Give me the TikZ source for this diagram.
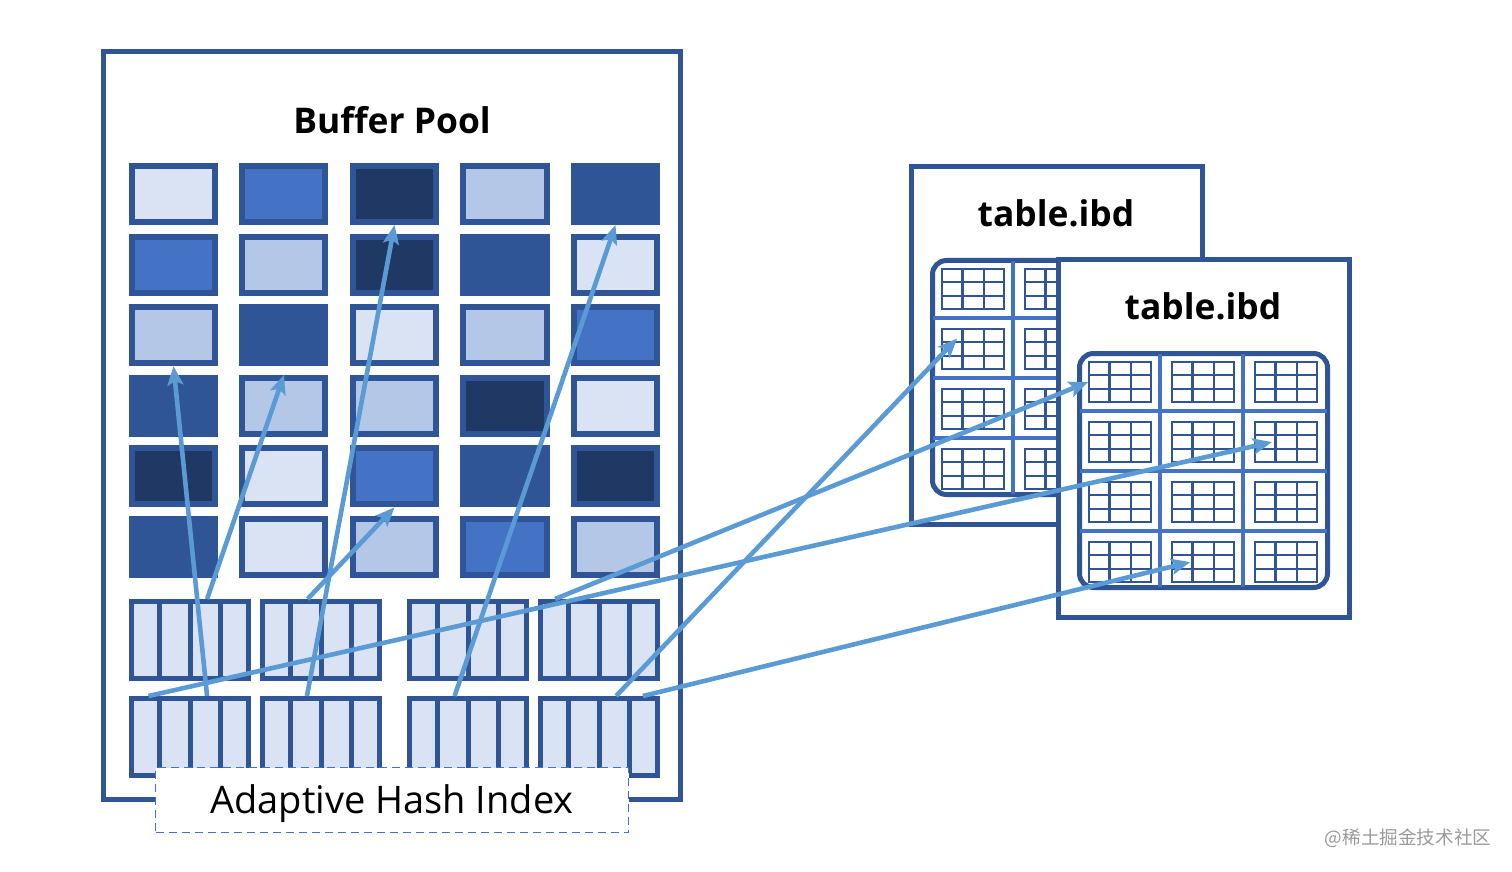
\documentclass[tikz,border=0pt]{standalone}
\usepackage{fontspec}
\setmainfont{Open Sans}
\newfontfamily\cjkfont{Noto Sans CJK SC}
\usepackage{tikz}
\usetikzlibrary{matrix,arrows.meta,calc,positioning}

\definecolor{bppale}{HTML}{DAE3F3}
\definecolor{bplight}{HTML}{B4C7E7}
\definecolor{bpmid}{HTML}{4472C4}
\definecolor{bpdark}{HTML}{2F5597}
\definecolor{bpnavy}{HTML}{1F3864}
\definecolor{arrowblue}{HTML}{5B9BD5}
\definecolor{wmgray}{HTML}{9A9A9A}

\tikzset{
  poolframe/.style={draw=bpdark, fill=white, line width=2.5pt, outer sep=1.25pt, inner sep=0pt},
  cell/.style={draw=bpdark, line width=3pt, outer sep=1.5pt, minimum width=41.5pt, minimum height=28pt, inner sep=0pt},
  bucket/.style={draw=bpdark, fill=bppale, line width=2.5pt, outer sep=1.25pt, minimum width=58.5pt, minimum height=38.5pt, inner sep=0pt, anchor=north west},
  slotline/.style={bpdark, line width=2.5pt},
  ahibox/.style={draw=bpmid, dash pattern=on 4pt off 2.5pt, line width=0.9pt, fill=white, minimum width=236.5pt, minimum height=32.5pt, text height=13.6pt, text depth=0pt, font=\fontsize{19}{22}\selectfont},
  title/.style={font=\fontsize{17.7}{20}\selectfont\bfseries},
  ibdframe/.style={poolframe, minimum width=145.5pt, minimum height=179pt},
  tabbox/.style={draw=bpdark, fill=white, line width=2.5pt, outer sep=1.25pt, rounded corners=7pt, minimum width=124pt, minimum height=117pt, inner sep=0pt},
  divider/.style={bpmid, line width=2.3pt},
  minitab/.style={draw=bpdark, line width=1.1pt, outer sep=0.55pt, minimum width=31pt, minimum height=20pt, inner sep=0pt},
  tabline/.style={bpdark, line width=1.1pt},
  link/.style={arrowblue, line width=2.3pt, -{Stealth[length=9.5pt,width=8pt,inset=2pt]}},
  wm/.style={text=wmgray, font=\cjkfont\fontsize{9.3}{11}\selectfont}
}

\begin{document}
\begin{tikzpicture}[x=0.5pt, y=-0.5pt]
  \useasboundingbox (0,0) rectangle (1512,872);

  % buffer pool
  \node[poolframe, anchor=north west, minimum width=288.5pt, minimum height=374pt] (bp) at (101,49) {};
  \node[title] (bp-title) at (392,120) {Buffer Pool};

  \matrix (pool) [matrix of nodes, nodes={cell}, column sep=10.75pt, row sep=4.3pt, inner sep=0pt, outer sep=0pt, anchor=north west] at (129,163)
  {
    |[fill=bppale]| \mbox{} & |[fill=bpmid]| \mbox{} & |[fill=bpnavy]| \mbox{} & |[fill=bplight]| \mbox{} & |[fill=bpdark]| \mbox{} \\
    |[fill=bpmid]| \mbox{} & |[fill=bplight]| \mbox{} & |[fill=bpnavy]| \mbox{} & |[fill=bpdark]| \mbox{} & |[fill=bppale]| \mbox{} \\
    |[fill=bplight]| \mbox{} & |[fill=bpdark]| \mbox{} & |[fill=bppale]| \mbox{} & |[fill=bplight]| \mbox{} & |[fill=bpmid]| \mbox{} \\
    |[fill=bpdark]| \mbox{} & |[fill=bplight]| \mbox{} & |[fill=bplight]| \mbox{} & |[fill=bpnavy]| \mbox{} & |[fill=bppale]| \mbox{} \\
    |[fill=bpnavy]| \mbox{} & |[fill=bppale]| \mbox{} & |[fill=bpmid]| \mbox{} & |[fill=bpdark]| \mbox{} & |[fill=bpnavy]| \mbox{} \\
    |[fill=bpdark]| \mbox{} & |[fill=bppale]| \mbox{} & |[fill=bplight]| \mbox{} & |[fill=bpmid]| \mbox{} & |[fill=bplight]| \mbox{} \\
  };

  % hash buckets
  \foreach \x [count=\i] in {129,260,407,538} {
    \node[bucket] (hA\i) at (\x,599) {};
    \node[bucket] (hB\i) at (\x,696) {};
  }
  \foreach \n in {hA1,hA2,hA3,hA4,hB1,hB2,hB3,hB4}
    \foreach \k in {1,2,3}
      \draw[slotline] ($(\n.north west)!\k/4!(\n.north east)$) -- ($(\n.south west)!\k/4!(\n.south east)$);

  \node[ahibox] (ahi) at (392,800) {Adaptive Hash Index};

  % table.ibd files
  \foreach \fx/\fy/\nm in {909/164/back, 1056/257/front} {
    \begin{scope}[shift={(\fx,\fy)}]
      \node[ibdframe, anchor=north west] (\nm) at (0,0) {};
      \node[title] (\nm-title) at (147,49) {table.ibd};
      \node[tabbox, anchor=north west] (\nm-box) at (21,94) {};
      \foreach \dx in {104,187} \draw[divider] (\dx,97) -- (\dx,330);
      \foreach \dy in {154,214,274} \draw[divider] (24,\dy) -- (271,\dy);
      \foreach \r in {1,...,4}
        \foreach \c in {1,2,3} {
          \node[minitab, anchor=north west] (\nm-\r-\c) at ({32+83*(\c-1)}, {104+60*(\r-1)}) {};
          \foreach \k in {1,2} {
            \draw[tabline] ($(\nm-\r-\c.north west)!\k/3!(\nm-\r-\c.north east)$) -- ($(\nm-\r-\c.south west)!\k/3!(\nm-\r-\c.south east)$);
            \draw[tabline] ($(\nm-\r-\c.north west)!\k/3!(\nm-\r-\c.south west)$) -- ($(\nm-\r-\c.north east)!\k/3!(\nm-\r-\c.south east)$);
          }
        }
    \end{scope}
  }

  % hash entries -> pages
  \coordinate (s1) at ($(hB1.north west)!0.64!(hB1.north east)$);
  \coordinate (s2) at ($(hA1.north west)!0.64!(hA1.north east)$);
  \coordinate (s3) at ($(hB2.north west)!0.385!(hB2.north east)$);
  \coordinate (s4) at ($(hA2.north west)!0.39!(hA2.north east)$);
  \coordinate (s5) at ($(hB3.north west)!0.39!(hB3.north east)$);
  \coordinate (s6) at ($(hB1.north west)!0.16!(hB1.north east)$);
  \coordinate (s7) at ($(hA4.north west)!0.14!(hA4.north east)$);
  \coordinate (s8) at ($(hB4.north west)!0.64!(hB4.north east)$);
  \coordinate (s9) at ($(hB4.north west)!0.86!(hB4.north east)$);
  \coordinate (t6) at ($(front-2-3.west)!0.28!(front-2-3.east)$);
  \coordinate (t8) at ($(back-2-1.north west)!0.5!(back-2-1.center)$);
  \coordinate (t9) at ($(front-4-2.west)!0.3!(front-4-2.east)$);

  \path[link]
  (s1) edge (pool-3-1.south)
  (s2) edge (pool-4-2.north)
  (s3) edge (pool-1-3.south)
  (s4) edge (pool-5-3.south)
  (s5) edge (pool-1-5.south)
  (s6) edge (t6)
  (s7) edge (front-1-1.west)
  (s8) edge (t8)
  (s9) edge (t9)
  ;

  \node[wm] (mark) at (1408,838) {@稀土掘金技术社区};
\end{tikzpicture}
\end{document}
